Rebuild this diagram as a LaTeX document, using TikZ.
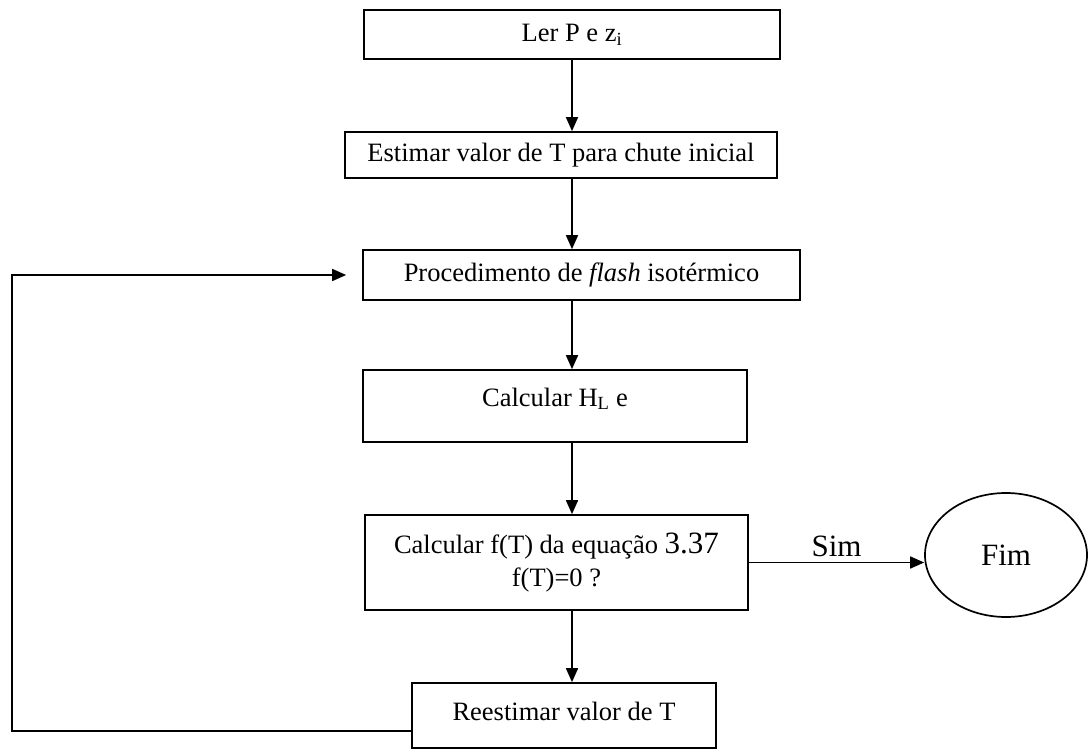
\documentclass[tikz,border=0pt]{standalone}
\usepackage{fontspec}
\setmainfont{Liberation Serif}
\usetikzlibrary{arrows.meta,shapes.geometric}

\tikzset{
  box/.style={draw, line width=1.7bp, rectangle, inner xsep=0pt, inner ysep=0pt,
    align=center, font=\fontsize{26.5bp}{33bp}\selectfont},
  arr/.style={line width=1.7bp, -{Triangle[length=14bp,width=12bp]}}
}

\begin{document}
\begin{tikzpicture}[x=1bp, y=-1bp]
                % Fixed page size
                \useasboundingbox (0,0) rectangle (1089,753);
                \coordinate (spine) at (572,0);
                \coordinate (ret) at (12,731);

                % Main column of steps
                \node[box, minimum width=416bp, minimum height=49bp] (ler) at (572,34.5) {Ler P e z\textsubscript{i}};
                \node[box, minimum width=432bp, minimum height=46bp] (estimar) at (561,155) {Estimar valor de T para chute inicial};
                \node[box, minimum width=437bp, minimum height=50bp] (proc) at (581.5,275) {Procedimento de \textit{flash} isotérmico};
                \node[box, minimum width=384bp, minimum height=72bp, text height=19bp, text depth=19bp] (calchl) at (555,406) {Calcular H\textsubscript{L} e};
                \node[box, minimum width=383bp, minimum height=95bp] (calcf) at (556.5,562.5)
                    {Calcular f(T) da equação {\fontsize{31bp}{33bp}\selectfont 3.37}\\f(T)=0 ?};
                \node[box, minimum width=304bp, minimum height=65bp, text height=19bp, text depth=10bp] (reest) at (564,715.5) {Reestimar valor de T};

                % End
                \node[draw, line width=1.7bp, ellipse, minimum width=162bp, minimum height=124bp, inner sep=0pt,
                    font=\fontsize{31bp}{33bp}\selectfont] (fim) at (1006,555) {Fim};

                % Downward arrows
                \foreach \a/\b in {ler/estimar, estimar/proc, proc/calchl, calchl/calcf, calcf/reest}
                    \draw[arr] (\a.south -| spine) -- (\b.north -| spine);

                % Yes branch
                \draw[arr] (calcf.east) -- node[above=2bp, font=\fontsize{31bp}{33bp}\selectfont] {Sim} (calcf.east -| fim.west);

                % Loop back to the flash step
                \draw[arr, line join=miter] (reest.west |- ret) -- (ret) |- ([xshift=-16bp]proc.west);
\end{tikzpicture}
\end{document}
